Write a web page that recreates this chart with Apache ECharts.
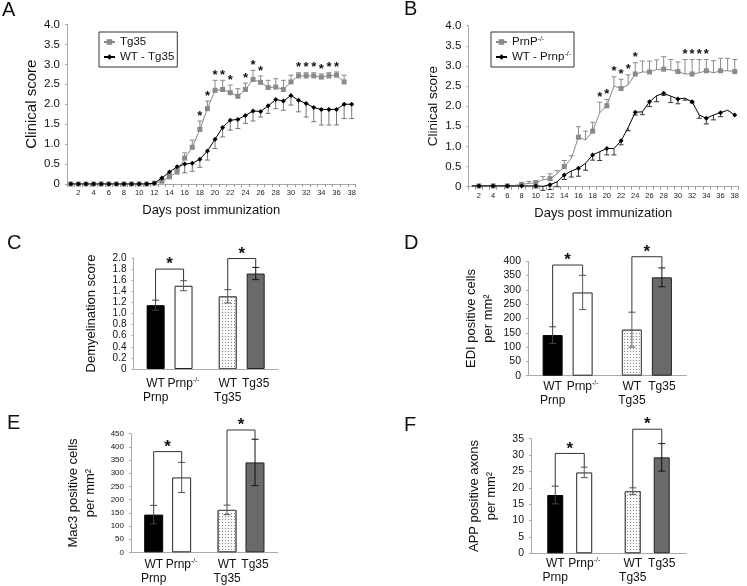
<!DOCTYPE html>
<html><head><meta charset="utf-8">
<script src="https://cdn.jsdelivr.net/npm/echarts@6/dist/echarts.min.js"></script>
<style>html,body{margin:0;padding:0;background:#fff}#c{width:747px;height:586px}</style>
</head><body><div id="c"></div>
<script>
// ---------- DATA ----------
const days = ['1','2','3','4','5','6','7','8','9','10','11','12','13','14','15','16','17','18','19','20','21','22','23','24','25','26','27','28','29','30','31','32','33','34','35','36','37','38'];

const A_tg35     = [0,0,0,0,0,0,0,0,0,0,0,0.02,0.07,0.18,0.3,0.65,0.92,1.37,1.89,2.35,2.37,2.29,2.2,2.37,2.62,2.55,2.42,2.43,2.37,2.56,2.71,2.71,2.71,2.68,2.71,2.73,2.56,null];
const A_tg35_err = [0,0,0,0,0,0,0,0,0,0,0,0,0.03,0.05,0.07,0.13,0.18,0.21,0.19,0.25,0.23,0.19,0.19,0.16,0.23,0.16,0.18,0.21,0.23,0.17,0.08,0.08,0.08,0.08,0.08,0.08,0.17,null];
const A_wt       = [0,0,0,0,0,0,0,0,0,0,0,0.02,0.15,0.3,0.43,0.5,0.52,0.62,0.83,1.12,1.42,1.6,1.62,1.72,1.83,1.82,1.96,2.12,2.08,2.22,2.1,2.02,1.92,1.87,1.87,1.87,2.0,2.0];
const A_wt_err   = [0,0,0,0,0,0,0,0,0,0,0,0,0.03,0.05,0.08,0.22,0.2,0.2,0.23,0.23,0.24,0.25,0.23,0.2,0.25,0.14,0.19,0.23,0.23,0.24,0.29,0.34,0.36,0.39,0.39,0.39,0.36,0.36];
const A_stars    = [18,19,20,21,22,24,25,26,31,32,33,34,35,36];

const B_prnp     = [0.02,0.02,0.02,0.02,0.02,0.02,0.03,0.06,0.08,0.1,0.17,0.2,0.32,0.5,0.7,1.23,1.16,1.38,1.84,2.01,2.5,2.44,2.53,2.8,2.85,2.85,2.91,2.92,2.9,2.86,2.8,2.8,2.83,2.88,2.83,2.88,2.88,2.86];
const B_prnp_err = [0,0,0,0,0,0,0,0,0.05,0.05,0.08,0.12,0.08,0.15,0.07,0.26,0.22,0.22,0.26,0.16,0.23,0.23,0.25,0.28,0.27,0.27,0.24,0.31,0.26,0.24,0.36,0.36,0.33,0.28,0.3,0.31,0.31,0.3];
const B_wt       = [0.02,0.02,0.02,0.02,0.02,0.02,0.02,0.02,0.02,0.02,0.01,0.05,0.12,0.29,0.39,0.46,0.58,0.79,0.87,0.95,0.95,1.14,1.47,1.85,1.86,2.11,2.26,2.32,2.25,2.18,2.2,2.11,1.78,1.7,1.78,1.84,1.9,1.78];
const B_wt_err   = [0,0,0,0,0,0,0,0,0,0.05,0.1,0.12,0.12,0.11,0.15,0.2,0.17,0.13,0.22,0.16,0.16,0.1,0.08,0.07,0.07,0.12,0.15,0.05,0.16,0.12,0.05,0.03,0.08,0.14,0.12,0.1,0,0];
const B_stars    = [19,20,21,22,23,24,31,32,33,34];

const groups = ['Prnp','Tg35'];
const wtLabels  = ['WT\nPrnp','WT\nTg35'];
const mutLabels = ['{b|Prnp}{s|-/-}','Tg35'];

const C_wt = [1.15, 1.31], C_wt_err = [0.09, 0.12], C_mut = [1.50, 1.72], C_mut_err = [0.09, 0.11], C_bracket = [1.80, 1.99];
const D_wt = [142, 161],   D_wt_err = [29, 61],     D_mut = [291, 344],   D_mut_err = [60, 33],     D_bracket = [387, 416];
const E_wt = [143, 161],   E_wt_err = [35, 18],     E_mut = [284, 341],   E_mut_err = [57, 88],     E_bracket = [382, 464];
const F_wt = [17.8, 19.0], F_wt_err = [2.7, 1.0],   F_mut = [24.7, 29.3], F_mut_err = [1.6, 4.2],   F_bracket = [30.5, 37.9];

// ---------- CHART ----------
const FONT = 'Liberation Sans, Arial, Helvetica, sans-serif';
const chart = echarts.init(document.getElementById('c'));

function lineErr(dir, color) {
  return function (params, api) {
    const x = api.value(0), v = api.value(1), e = api.value(2);
    if (!e) return;
    const p0 = api.coord([x, v]), p1 = api.coord([x, v + dir * e]);
    return {type: 'group', children: [
      {type: 'line', shape: {x1: p0[0], y1: p0[1], x2: p1[0], y2: p1[1]}, style: {stroke: color, lineWidth: 1}},
      {type: 'line', shape: {x1: p1[0] - 2.5, y1: p1[1], x2: p1[0] + 2.5, y2: p1[1]}, style: {stroke: color, lineWidth: 1}}
    ]};
  };
}
function starItem(fs) {
  return function (params, api) {
    const p = api.coord([api.value(0), api.value(1)]);
    return {type: 'text', style: {text: '*', x: p[0], y: p[1] + fs * 0.12, align: 'center', verticalAlign: 'bottom',
      font: 'bold ' + fs + 'px ' + FONT, fill: '#111'}};
  };
}
function barErr(off, colors) {
  return function (params, api) {
    const c = api.value(0), v = api.value(1), e = api.value(2);
    const t = api.coord([c, v + e]), b = api.coord([c, v - e]);
    const x = t[0] + off, col = colors[params.dataIndex];
    return {type: 'group', children: [
      {type: 'line', shape: {x1: x, y1: t[1], x2: x, y2: b[1]}, style: {stroke: col, lineWidth: 1}},
      {type: 'line', shape: {x1: x - 3.5, y1: t[1], x2: x + 3.5, y2: t[1]}, style: {stroke: col, lineWidth: 1}},
      {type: 'line', shape: {x1: x - 3.5, y1: b[1], x2: x + 3.5, y2: b[1]}, style: {stroke: col, lineWidth: 1}}
    ]};
  };
}
function bracket(off) {
  return function (params, api) {
    const c = api.value(0);
    const pl = api.coord([c, api.value(1)]), pr = api.coord([c, api.value(2)]), ph = api.coord([c, api.value(3)]);
    const xl = pl[0] - off, xr = pl[0] + off;
    return {type: 'group', children: [
      {type: 'polyline', shape: {points: [[xl, pl[1]], [xl, ph[1]], [xr, ph[1]], [xr, pr[1]]]},
        style: {stroke: '#333', fill: null, lineWidth: 1}},
      {type: 'text', style: {text: '*', x: (xl + xr) / 2, y: ph[1] + 4, align: 'center', verticalAlign: 'bottom',
        font: 'bold 17px ' + FONT, fill: '#111'}}
    ]};
  };
}

const dotted = {color: '#fafafa', borderColor: '#555', borderWidth: 1,
  decal: {symbol: 'rect', symbolSize: 1, dashArrayX: [1, 2], dashArrayY: [1, 2], color: '#888', rotation: 0}};
const wtStyles  = [{color: '#000', borderColor: '#000', borderWidth: 1}, dotted];
const mutStyles = [{color: '#fff', borderColor: '#222', borderWidth: 1}, {color: '#6a6a6a', borderColor: '#222', borderWidth: 1}];
const wtErrCol  = ['#444', '#555'];
const mutErrCol = ['#555', '#111'];

const grids = [
  {left: 67, top: 24.5, width: 288.5, height: 159.5},
  {left: 468.3, top: 25.7, width: 270, height: 161},
  {left: 133.5, top: 258, width: 144.3, height: 111},
  {left: 528, top: 261.3, width: 158.5, height: 114.4},
  {left: 131, top: 433.7, width: 146.7, height: 118.6},
  {left: 531, top: 438.7, width: 155, height: 114.6}
];
const axLine = {show: true, lineStyle: {color: '#aaa', width: 1}};
const dayAxis = gi => ({gridIndex: gi, type: 'category', data: days, boundaryGap: true, axisLine: axLine,
  axisTick: {show: true, interval: 0, length: 3, lineStyle: {color: '#999'}},
  axisLabel: {interval: i => i % 2 === 1, fontSize: 7.5, color: '#222', margin: 5},
  name: 'Days post immunization', nameLocation: 'middle', nameGap: 20, nameTextStyle: {fontSize: 13, color: '#111'}});
const grpAxis = gi => ({gridIndex: gi, type: 'category', data: groups, axisLine: axLine, axisTick: {show: false}, axisLabel: {show: false}});
const valAxis = (gi, max, interval, fs, name, gap, nfs, fmt) => ({gridIndex: gi, type: 'value', min: 0, max: max, interval: interval,
  axisLine: axLine, axisTick: {show: true, length: 2, lineStyle: {color: '#aaa'}}, splitLine: {show: false},
  axisLabel: {fontSize: fs, color: '#111', margin: 7, formatter: fmt || (v => String(v))},
  name: name, nameLocation: 'middle', nameGap: gap, nameTextStyle: {fontSize: nfs, color: '#111', lineHeight: 17}});
const f1 = v => v === 0 ? '0' : v.toFixed(1);

const series = [];
function addLinePanel(gi, grey, greyErr, black, blackErr, stars, greyName, blackName, blackErrCol) {
  series.push({type: 'custom', xAxisIndex: gi, yAxisIndex: gi, renderItem: lineErr(1, '#8a8a8a'), clip: false, z: 2,
    data: grey.map((v, i) => [i, v, greyErr[i]]).filter(d => d[1] != null)});
  series.push({type: 'custom', xAxisIndex: gi, yAxisIndex: gi, renderItem: lineErr(-1, blackErrCol), clip: false, z: 2,
    data: black.map((v, i) => [i, v, blackErr[i]])});
  series.push({name: greyName, type: 'line', xAxisIndex: gi, yAxisIndex: gi, data: grey, symbol: 'rect', symbolSize: 5,
    showSymbol: true, lineStyle: {color: '#8a8a8a', width: 1}, itemStyle: {color: '#8a8a8a'}, z: 3, animation: false});
  series.push({name: blackName, type: 'line', xAxisIndex: gi, yAxisIndex: gi, data: black, symbol: 'diamond', symbolSize: 5,
    showSymbol: true, lineStyle: {color: '#000', width: 1}, itemStyle: {color: '#000'}, z: 4, animation: false});
  series.push({type: 'custom', xAxisIndex: gi, yAxisIndex: gi, renderItem: starItem(13), clip: false, z: 5,
    data: stars.map(d => [d - 1, grey[d - 1] + greyErr[d - 1]])});
}
addLinePanel(0, A_tg35, A_tg35_err, A_wt, A_wt_err, A_stars, 'Tg35', 'WT - Tg35', '#777');
addLinePanel(1, B_prnp, B_prnp_err, B_wt, B_wt_err, B_stars, 'PrnP', 'WT - Prnp', '#333');

const labelRich = {b: {fontSize: 12, color: '#111'}, s: {fontSize: 7, color: '#111', verticalAlign: 'top'}};
function addBarPanel(gi, wt, wtE, mut, mutE, br, bw, gap, off, dist) {
  const lbl = arr => ({show: true, position: 'bottom', distance: dist, fontSize: 12, lineHeight: 14, color: '#111', align: 'center',
    formatter: p => arr[p.dataIndex], rich: labelRich});
  series.push({type: 'bar', xAxisIndex: gi, yAxisIndex: gi, barWidth: bw, barGap: gap, animation: false,
    data: wt.map((v, i) => ({value: v, itemStyle: wtStyles[i]})), label: lbl(wtLabels)});
  series.push({type: 'bar', xAxisIndex: gi, yAxisIndex: gi, barWidth: bw, animation: false,
    data: mut.map((v, i) => ({value: v, itemStyle: mutStyles[i]})), label: lbl(mutLabels)});
  series.push({type: 'custom', xAxisIndex: gi, yAxisIndex: gi, renderItem: barErr(-off, wtErrCol), clip: false, z: 5,
    data: wt.map((v, i) => [i, v, wtE[i]])});
  series.push({type: 'custom', xAxisIndex: gi, yAxisIndex: gi, renderItem: barErr(off, mutErrCol), clip: false, z: 5,
    data: mut.map((v, i) => [i, v, mutE[i]])});
  series.push({type: 'custom', xAxisIndex: gi, yAxisIndex: gi, renderItem: bracket(off), clip: false, z: 5,
    data: wt.map((v, i) => [i, v + wtE[i], mut[i] + mutE[i], br[i]])});
}
addBarPanel(2, C_wt, C_wt_err, C_mut, C_mut_err, C_bracket, 18, '55%', 14, 8);
addBarPanel(3, D_wt, D_wt_err, D_mut, D_mut_err, D_bracket, 20, '50%', 15, 4);
addBarPanel(4, E_wt, E_wt_err, E_mut, E_mut_err, E_bracket, 19, '47%', 14, 5);
addBarPanel(5, F_wt, F_wt_err, F_mut, F_mut_err, F_bracket, 16, '81%', 14.5, 3);

const legendRich = {b: {fontSize: 11.5, color: '#111'}, s: {fontSize: 7, color: '#111', verticalAlign: 'top'}};
const legendBase = {orient: 'vertical', borderColor: '#333', borderWidth: 1, padding: [4, 3, 4, 4], itemGap: 3,
  itemWidth: 11, itemHeight: 7, textStyle: {fontSize: 11.5, color: '#111', rich: legendRich}};
const letter = (t, l, top) => ({text: t, left: l, top: top, padding: 0, textStyle: {fontSize: 20, fontWeight: 'normal', color: '#111'}});

chart.setOption({
  animation: false,
  textStyle: {fontFamily: FONT},
  title: [letter('A', 2, 0), letter('B', 404, -1), letter('C', 7, 233), letter('D', 404, 233), letter('E', 7, 413), letter('F', 404, 415)],
  legend: [
    Object.assign({}, legendBase, {left: 99, top: 32, data: ['Tg35', 'WT - Tg35']}),
    Object.assign({}, legendBase, {left: 491, top: 32, data: ['PrnP', 'WT - Prnp'],
      formatter: n => '{b|' + n + '}{s|-/-}'})
  ],
  grid: grids,
  xAxis: [dayAxis(0), dayAxis(1), grpAxis(2), grpAxis(3), grpAxis(4), grpAxis(5)],
  yAxis: [
    valAxis(0, 4, 0.5, 11.5, 'Clinical score', 26, 15, f1),
    valAxis(1, 4, 0.5, 11.5, 'Clinical score', 26, 13.5, f1),
    valAxis(2, 2, 0.2, 10, 'Demyelination score', 34, 13, f1),
    valAxis(3, 400, 50, 10.5, 'EDI positive cells\nper mm²', 31, 13),
    valAxis(4, 450, 50, 8, 'Mac3 positive cells\nper mm²', 32, 13),
    valAxis(5, 35, 5, 10.5, 'APP positive axons\nper mm²', 31, 13)
  ],
  series: series
});
</script></body></html>
